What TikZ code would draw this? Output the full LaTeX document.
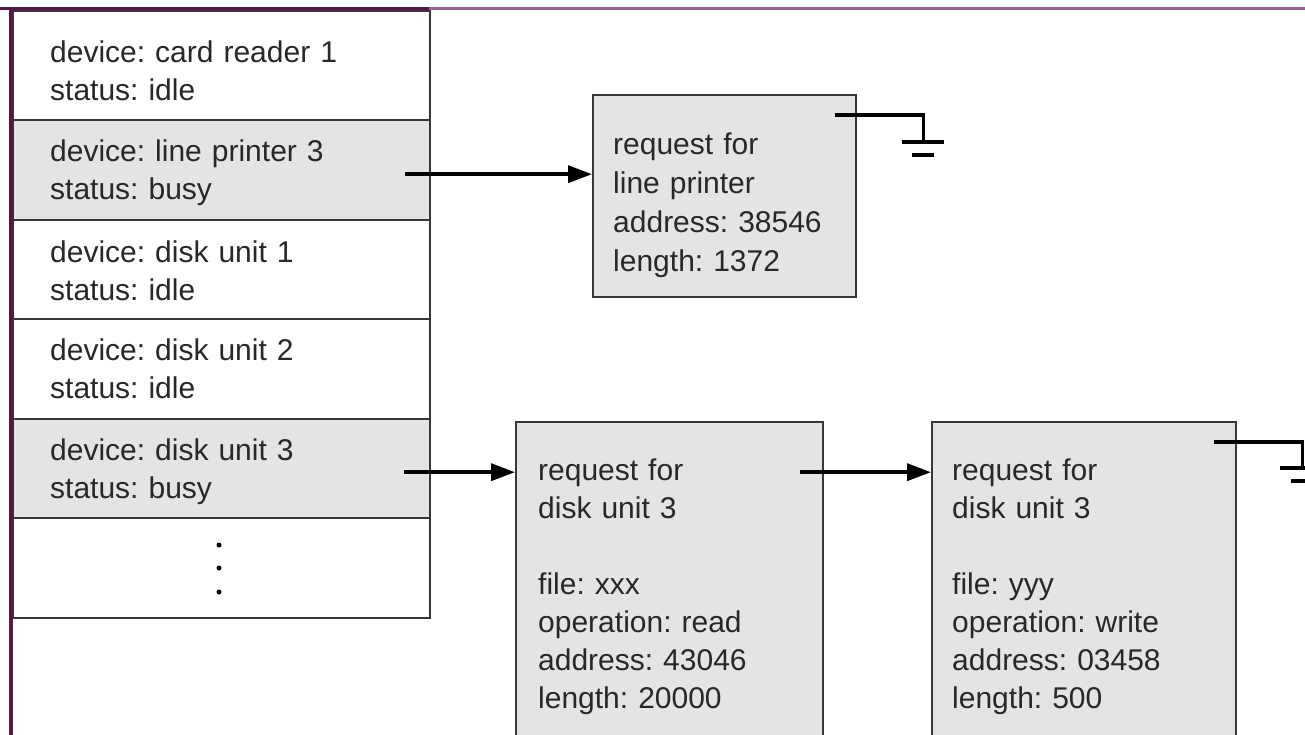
\documentclass[tikz,border=0pt]{standalone}
\usepackage{fontspec}
\setmainfont{Liberation Sans}
\usetikzlibrary{arrows.meta}
\definecolor{boxgray}{RGB}{229,227,230}
\definecolor{edge}{RGB}{55,55,55}
\definecolor{ink}{RGB}{40,40,40}
\definecolor{framedark}{RGB}{85,22,72}
\definecolor{framelight}{RGB}{150,100,140}
\frenchspacing
\begin{document}
\begin{tikzpicture}[x=1pt,y=-1pt,
  cell/.style={draw=edge, line width=2.4pt, rectangle, inner sep=0pt, anchor=north west, minimum width=417pt},
  busy/.style={cell, fill=boxgray},
  req/.style={draw=edge, line width=2.4pt, fill=boxgray, rectangle, inner sep=0pt, anchor=north west},
  label/.style={anchor=base west, inner sep=0pt, text width=330pt, align=left, text=ink,
                font=\fontsize{30}{38}\selectfont},
  link/.style={line width=3.6pt, draw=black, -{Triangle[length=24pt,width=17pt]}},
  ground/.style={line width=3.4pt, draw=black},
  dot/.style={circle, fill=black, inner sep=0pt, minimum size=5pt}
]
\useasboundingbox (0,0) rectangle (1305,735);
\clip (0,0) rectangle (1305,735);
\fill[white] (0,0) rectangle (1305,735);

% device status table
\node[cell, minimum height=109pt] (r1) at (12,10) {};
\node[busy, minimum height=100pt] (r2) at (12,119) {};
\node[cell, minimum height=99pt]  (r3) at (12,219) {};
\node[cell, minimum height=100pt] (r4) at (12,318) {};
\node[busy, minimum height=99pt]  (r5) at (12,418) {};
\node[cell, minimum height=100pt] (r6) at (12,517) {};

\node[label] (t1) at (50,63)  {device: card reader 1\\status: idle};
\node[label] (t2) at (50,162) {device: line printer 3\\status: busy};
\node[label] (t3) at (50,262) {device: disk unit 1\\status: idle};
\node[label] (t4) at (50,360) {device: disk unit 2\\status: idle};
\node[label] (t5) at (50,460) {device: disk unit 3\\status: busy};

\node[dot] (d1) at (219,545) {};
\node[dot] (d2) at (219,568) {};
\node[dot] (d3) at (219,592) {};

% request blocks
\node[req, minimum width=263pt, minimum height=202pt] (lp) at (592,94) {};
\node[req, minimum width=307pt, minimum height=400pt] (q1) at (515,421) {};
\node[req, minimum width=304pt, minimum height=400pt] (q2) at (931,421) {};

\node[label, font=\fontsize{30}{39}\selectfont] (lpt) at (613,155)
  {request for\\line printer\\address: 38546\\length: 1372};
\node[label] (q1t) at (538,480)
  {request for\\disk unit 3\\[38pt]file: xxx\\operation: read\\address: 43046\\length: 20000};
\node[label] (q2t) at (952,480)
  {request for\\disk unit 3\\[38pt]file: yyy\\operation: write\\address: 03458\\length: 500};

% queue links
\coordinate (a1) at ([shift={(-26,4)}]r2.east);
\draw[link] (a1) -- (a1 -| lp.west);
\coordinate (a2) at ([shift={(-27,3.5)}]r5.east);
\draw[link] (a2) -- (a2 -| q1.west);
\path (q1.east |- a2) ++(-24,0) coordinate (a3);
\draw[link] (a3) -- (a3 -| q2.west);

% null pointers at the end of each queue
\path (lp.north east) ++(-22,21) coordinate (g1);
\draw[ground] (g1) -- ++(88,0) -- ++(0,27) coordinate (g1b);
\draw[ground] ([xshift=-21pt]g1b) -- ([xshift=21pt]g1b);
\draw[ground] ([shift={(-11,13)}]g1b) -- ([shift={(11,13)}]g1b);

\path (q2.north east) ++(-23,21) coordinate (g2);
\draw[ground] (g2) -- ++(88,0) -- ++(0,26) coordinate (g2b);
\draw[ground] ([xshift=-22pt]g2b) -- ([xshift=22pt]g2b);
\draw[ground] ([shift={(-11,13)}]g2b) -- ([shift={(11,13)}]g2b);

% window frame edges
\draw[framelight, line width=3pt] (429,9) -- (1305,9);
\draw[framedark, line width=3pt] (0,9) -- (429,9);
\draw[framedark, line width=4pt] (11,9) -- (11,735);
\end{tikzpicture}
\end{document}
